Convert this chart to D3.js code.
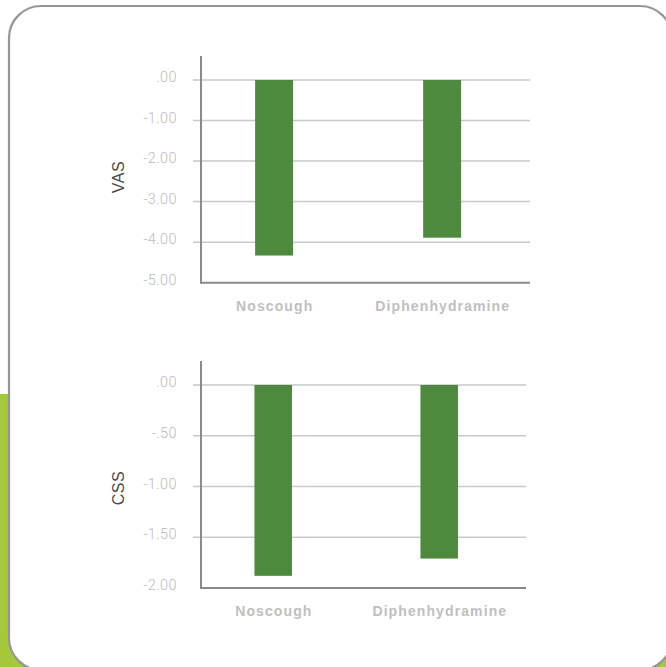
<!DOCTYPE html>
<html>
<head>
<meta charset="utf-8">
<script src="https://cdn.jsdelivr.net/npm/d3@7"></script>
<style>
  html, body { margin: 0; padding: 0; background: #fff; }
  svg { display: block; }
</style>
</head>
<body>
<svg id="chart" width="666" height="667"></svg>
<script>
// ---- data ----
const categories = ["Noscough", "Diphenhydramine"];
const vasValues = [-4.33, -3.89];
const cssValues = [-1.88, -1.71];
const vasTicks = [0, -1, -2, -3, -4, -5];
const vasTickLabels = [".00", "-1.00", "-2.00", "-3.00", "-4.00", "-5.00"];
const cssTicks = [0, -0.5, -1, -1.5, -2];
const cssTickLabels = [".00", "-.50", "-1.00", "-1.50", "-2.00"];

const svg = d3.select("#chart");

// background green strip + card
svg.append("rect").attr("x", 0).attr("y", 394).attr("width", 666).attr("height", 273)
  .attr("fill", "#a5c93b");
svg.append("rect").attr("x", 9).attr("y", 6).attr("width", 663).attr("height", 664)
  .attr("rx", 32).attr("ry", 32)
  .attr("fill", "#fff").attr("stroke", "#96969a").attr("stroke-width", 2.2);

const barColor = "#4e8a3d";
const fontTick = "Roboto, 'Liberation Sans', Arial, sans-serif";

function drawChart(cfg) {
  const g = svg.append("g");
  const y = d3.scaleLinear().domain([cfg.min, 0]).range([cfg.bottom, cfg.top]);
  const x = d3.scaleBand().domain(categories).range([cfg.left, cfg.right])
    .paddingInner(0.774).paddingOuter(0.366).align(0.44);

  // gridlines with small ticks left of the axis
  const gridTicks = cfg.ticks.filter(t => t !== cfg.min);
  g.selectAll("line.grid").data(gridTicks).join("line")
    .attr("class", "grid")
    .attr("x1", cfg.left - 8).attr("x2", cfg.right)
    .attr("y1", d => y(d)).attr("y2", d => y(d))
    .attr("stroke", "#c9c9c9").attr("stroke-width", 1.5);

  // tick labels
  g.selectAll("text.tick").data(cfg.ticks).join("text")
    .attr("class", "tick")
    .attr("x", cfg.left - 24)
    .attr("y", d => y(d) - 3)
    .attr("dy", "0.35em")
    .attr("text-anchor", "end")
    .attr("font-family", fontTick)
    .attr("font-weight", 300)
    .attr("font-size", 14.5)
    .attr("letter-spacing", 0.4)
    .attr("fill", "#bcbcbc")
    .text((d, i) => cfg.labels[i]);

  // bars
  g.selectAll("rect.bar").data(cfg.values).join("rect")
    .attr("class", "bar")
    .attr("x", (d, i) => x(categories[i]))
    .attr("width", x.bandwidth())
    .attr("y", y(0))
    .attr("height", d => y(d) - y(0))
    .attr("fill", barColor);

  // axes lines
  g.append("line").attr("x1", cfg.left).attr("x2", cfg.left)
    .attr("y1", cfg.axisTop).attr("y2", y(cfg.min) + 1)
    .attr("stroke", "#8a8a8a").attr("stroke-width", 2);
  g.append("line").attr("x1", cfg.left - 1).attr("x2", cfg.right)
    .attr("y1", y(cfg.min)).attr("y2", y(cfg.min))
    .attr("stroke", "#8a8a8a").attr("stroke-width", 2);

  // category labels
  g.selectAll("text.cat").data(categories).join("text")
    .attr("class", "cat")
    .attr("x", d => x(d) + x.bandwidth() / 2 + 0.6)
    .attr("y", y(cfg.min) + 23)
    .attr("dy", "0.35em")
    .attr("text-anchor", "middle")
    .attr("font-family", "'Liberation Sans', Arial, sans-serif")
    .attr("font-weight", "bold")
    .attr("font-size", 14)
    .attr("letter-spacing", 1.1)
    .attr("fill", "#c0c0c0")
    .text(d => d);

  // y title
  g.append("text")
    .attr("transform", `translate(${cfg.left - 83},${cfg.titleY}) rotate(-90)`)
    .attr("dy", "0.35em")
    .attr("text-anchor", "middle")
    .attr("font-family", "'Liberation Sans', Arial, sans-serif")
    .attr("font-size", 16)
    .attr("letter-spacing", 0.5)
    .attr("fill", "#4a4a4a")
    .text(cfg.title);
}

drawChart({
  title: "VAS", values: vasValues, ticks: vasTicks, labels: vasTickLabels,
  min: -5, top: 80, bottom: 282.7, axisTop: 56, left: 201, right: 530, titleY: 177
});
drawChart({
  title: "CSS", values: cssValues, ticks: cssTicks, labels: cssTickLabels,
  min: -2, top: 385, bottom: 588, axisTop: 361, left: 201, right: 526, titleY: 488
});
</script>
</body>
</html>
